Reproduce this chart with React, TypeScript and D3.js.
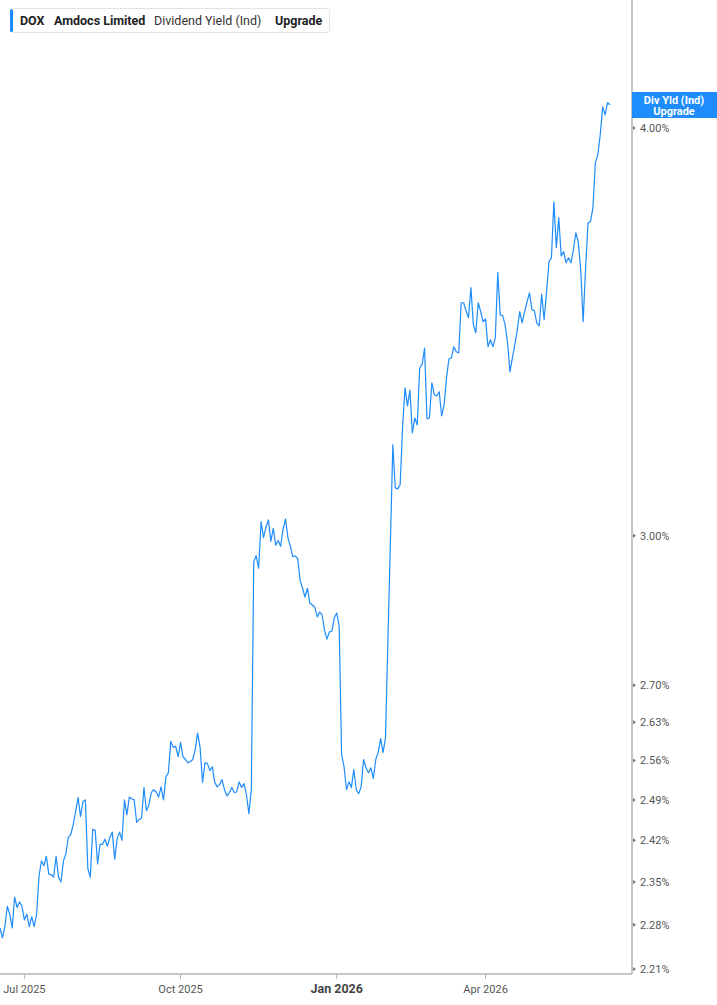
import React, { useMemo } from 'react';
import * as d3 from 'd3';

// ---- DATA ----
const firstTradingDay = '2025-06-16';
const marketHolidays = [
  '2025-06-19', '2025-07-04', '2025-09-01', '2025-11-27', '2025-12-25',
  '2026-01-01', '2026-01-19', '2026-02-16', '2026-04-03', '2026-05-25',
];
// DOX dividend yield (indicated), %, one value per trading day
const yieldValues = [
  2.275, 2.259, 2.277, 2.310, 2.297, 2.275, 2.325, 2.308, 2.317, 2.310,
  2.288, 2.297, 2.277, 2.293, 2.277, 2.297, 2.360, 2.385, 2.377, 2.393,
  2.363, 2.362, 2.358, 2.393, 2.358, 2.350, 2.385, 2.397, 2.425, 2.430,
  2.447, 2.470, 2.494, 2.461, 2.487, 2.490, 2.372, 2.358, 2.439, 2.437,
  2.380, 2.413, 2.413, 2.422, 2.410, 2.425, 2.434, 2.388, 2.422, 2.434,
  2.420, 2.490, 2.464, 2.495, 2.492, 2.490, 2.451, 2.456, 2.458, 2.512,
  2.471, 2.481, 2.503, 2.508, 2.504, 2.495, 2.513, 2.490, 2.531, 2.538,
  2.595, 2.584, 2.586, 2.567, 2.593, 2.567, 2.562, 2.556, 2.558, 2.562,
  2.580, 2.610, 2.584, 2.521, 2.556, 2.555, 2.542, 2.549, 2.521, 2.513,
  2.517, 2.526, 2.508, 2.497, 2.503, 2.512, 2.503, 2.504, 2.522, 2.512,
  2.519, 2.499, 2.466, 2.508, 2.946, 2.958, 2.932, 3.030, 2.996, 3.018,
  3.034, 2.988, 3.016, 2.980, 2.990, 2.978, 3.013, 3.036, 2.996, 2.978,
  2.956, 2.958, 2.952, 2.907, 2.891, 2.873, 2.891, 2.861, 2.857, 2.853,
  2.833, 2.843, 2.837, 2.807, 2.789, 2.803, 2.805, 2.831, 2.841, 2.815,
  2.571, 2.549, 2.508, 2.522, 2.512, 2.544, 2.508, 2.501, 2.513, 2.562,
  2.547, 2.538, 2.547, 2.528, 2.562, 2.575, 2.600, 2.575, 2.602, 2.791,
  2.986, 3.199, 3.103, 3.101, 3.110, 3.240, 3.330, 3.288, 3.325, 3.226,
  3.260, 3.244, 3.377, 3.385, 3.425, 3.258, 3.260, 3.342, 3.314, 3.311,
  3.321, 3.265, 3.290, 3.354, 3.399, 3.401, 3.428, 3.416, 3.413, 3.536,
  3.536, 3.516, 3.499, 3.574, 3.482, 3.462, 3.536, 3.514, 3.489, 3.496,
  3.428, 3.445, 3.428, 3.450, 3.612, 3.506, 3.504, 3.482, 3.438, 3.368,
  3.401, 3.433, 3.469, 3.514, 3.486, 3.514, 3.538, 3.561, 3.519, 3.516,
  3.486, 3.479, 3.558, 3.494, 3.564, 3.640, 3.650, 3.797, 3.676, 3.755,
  3.655, 3.666, 3.637, 3.650, 3.637, 3.671, 3.715, 3.691, 3.619, 3.489,
  3.624, 3.741, 3.744, 3.781, 3.903, 3.925, 3.981, 4.060, 4.037, 4.072,
  4.066,
];
const yTickValues = [2.21, 2.28, 2.35, 2.42, 2.49, 2.56, 2.63, 2.7, 3.0, 4.0];
const xTickMonths = ['2025-07', '2025-10', '2026-01', '2026-04'];
const ticker = 'DOX';
const companyName = 'Amdocs Limited';
const metricName = 'Dividend Yield (Ind)';
const upgradeText = 'Upgrade';
const badgeLines = ['Div Yld (Ind)', 'Upgrade'];

const W = 717;
const H = 1005;
const BLUE = '#1e8cfa';
const FONT = 'Roboto, "Noto Sans", sans-serif';

function buildTradingDays(start: string, n: number, holidays: string[]) {
  const hs = new Set(holidays);
  const out: Date[] = [];
  const d = new Date(start + 'T12:00:00');
  while (out.length < n) {
    const day = d.getDay();
    const key = d3.timeFormat('%Y-%m-%d')(d);
    if (day !== 0 && day !== 6 && !hs.has(key)) out.push(new Date(d));
    d.setDate(d.getDate() + 1);
  }
  return out;
}

export default function App() {
  const dates = useMemo(
    () => buildTradingDays(firstTradingDay, yieldValues.length, marketHolidays),
    []
  );
  const axisX = 632;
  const axisY = 974;
  const x = d3.scaleLinear().domain([0, 250]).range([0, 610]);
  const y = d3.scaleLog().domain([2.21, 4.0]).range([969, 128]);

  const line = d3
    .line<number>()
    .x((_, i) => x(i))
    .y((v) => y(v));

  const monthKey = d3.timeFormat('%Y-%m');
  const xTicks = xTickMonths.map((m) => {
    const idx = dates.findIndex((d) => monthKey(d) === m);
    return { idx, date: dates[idx], bold: m.endsWith('-01') };
  }).filter((t) => t.idx >= 0);

  return (
    <svg
      width={W}
      height={H}
      style={{ position: 'absolute', left: 0, top: 0, display: 'block', background: '#fff' }}
      fontFamily={FONT}
    >
      <defs>
        <clipPath id="plot">
          <rect x={0} y={0} width={axisX} height={axisY} />
        </clipPath>
      </defs>

      {/* axes */}
      <line x1={axisX} y1={0} x2={axisX} y2={axisY} stroke="#b3b3b3" strokeWidth={1.5} />
      <line x1={0} y1={axisY} x2={axisX} y2={axisY} stroke="#b3b3b3" strokeWidth={1.5} />

      {yTickValues.map((v) => (
        <g key={v} transform={`translate(${axisX},${y(v)})`}>
          <path d="M1,-2 L4,0 L1,2 Z" fill="#777" />
          <text x={8} dy="0.35em" fontSize={11} fill="#555">
            {v.toFixed(2)}%
          </text>
        </g>
      ))}

      {xTicks.map((t) => (
        <g key={t.idx} transform={`translate(${x(t.idx)},${axisY})`}>
          <line y1={0} y2={5} stroke="#b3b3b3" strokeWidth={1} />
          <text
            y={19}
            textAnchor="middle"
            fontSize={t.bold ? 12.5 : 11}
            fontWeight={t.bold ? 700 : 400}
            fill={t.bold ? '#444' : '#555'}
          >
            {d3.timeFormat('%b %Y')(t.date)}
          </text>
        </g>
      ))}

      {/* series */}
      <path
        d={line(yieldValues) || ''}
        fill="none"
        stroke={BLUE}
        strokeWidth={1.2}
        strokeLinejoin="round"
        clipPath="url(#plot)"
      />

      {/* last value badge */}
      <rect x={axisX} y={92} width={W - axisX} height={26} fill={BLUE} />
      <text x={674} y={104} textAnchor="middle" fontSize={11} fontWeight={700} fill="#fff">
        {badgeLines[0]}
      </text>
      <text x={674} y={115} textAnchor="middle" fontSize={11} fontWeight={700} fill="#fff">
        {badgeLines[1]}
      </text>

      {/* legend */}
      <rect x={10.5} y={8.5} width={319} height={24} rx={3} fill="#fff" stroke="#e3e3e3" />
      <rect x={10} y={9} width={3} height={23} rx={1.5} fill={BLUE} />
      <text y={25} fontSize={12.5} fill="#222">
        <tspan x={20} fontWeight={700}>{ticker}</tspan>
        <tspan x={54} fontWeight={700}>{companyName}</tspan>
        <tspan x={154} fontWeight={400} fill="#333">{metricName}</tspan>
        <tspan x={275} fontWeight={700}>{upgradeText}</tspan>
      </text>
    </svg>
  );
}
